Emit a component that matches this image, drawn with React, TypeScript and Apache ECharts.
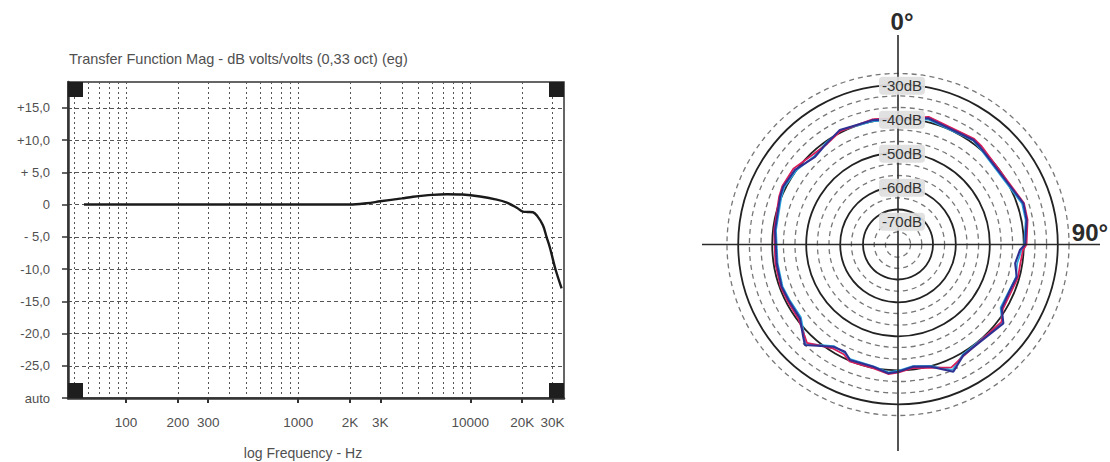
import React, { useEffect, useRef } from "react";
import * as echarts from "echarts";

// ---------- Left chart: transfer function magnitude ----------
const responseFreqHz = [57, 100, 200, 500, 1000, 1500, 2000, 2500, 3000, 4000, 4650, 6000, 7300, 9000, 11400, 14000, 16300, 18600, 20200, 21500, 23100, 24500, 26400, 27700, 29000, 31200, 33900];
const responseDb = [0, 0, 0, 0, 0, 0, 0, 0.2, 0.5, 0.95, 1.2, 1.5, 1.6, 1.55, 1.25, 0.8, 0.3, -0.5, -1.1, -1.15, -1.2, -1.8, -3.2, -5.0, -6.7, -10.0, -13.0];

const freqTickHz = [100, 200, 300, 1000, 2000, 3000, 10000, 20000, 30000];
const freqTickLabels = ["100", "200", "300", "1000", "2K", "3K", "10000", "20K", "30K"];
const freqGridHz = [50, 60, 70, 80, 90, 100, 200, 300, 400, 500, 600, 700, 800, 900, 1000, 2000, 3000, 4000, 5000, 6000, 7000, 8000, 9000, 10000, 20000, 30000];
const freqMinHz = 46;
const freqMaxHz = 35000;

const dbTicks = [-30, -25, -20, -15, -10, -5, 0, 5, 10, 15];
const dbTickLabels = ["auto", "-25,0", "-20,0", "-15,0", "-10,0", "- 5,0", "0", "+ 5,0", "+10,0", "+15,0"];
const dbMin = -30;
const dbMax = 19;

const chartTitle = "Transfer Function Mag - dB volts/volts (0,33 oct) (eg)";
const xAxisTitle = "log Frequency - Hz";

// ---------- Right chart: polar pattern ----------
const polarAnglesDeg = [348.8, 13.5, 35.8, 40.0, 71.8, 79.2, 90, 92.6, 99.1, 105.2, 112.1, 121.6, 126.8, 149.4, 156.5, 165.3, 173, 180, 184.3, 191.4, 202.6, 206.3, 212.3, 222.8, 225.8, 233, 243.2, 250.1, 261.2, 276.7, 292, 296.7, 305.9, 316.6, 324.8, 333.1, 348.8];
const navyDb = [-39.7, -38.8, -39.1, -39.5, -38.2, -38.5, -39.6, -41.1, -42.1, -40.8, -41.4, -41.2, -38.3, -39.2, -36.2, -39.9, -40.8, -39.6, -39.0, -40.3, -40.2, -41.8, -41.4, -36.7, -38.1, -40.9, -40.9, -40.6, -40.9, -40.6, -39.6, -39.2, -39.6, -41.5, -40.6, -39.2, -39.7];
const redDb = [-39.4, -38.4, -38.7, -39.0, -38.0, -38.2, -39.2, -40.2, -40.6, -40.4, -40.9, -40.8, -39.0, -39.0, -37.6, -39.5, -40.4, -39.3, -38.8, -39.9, -39.8, -41.0, -40.9, -37.6, -38.6, -40.4, -40.5, -40.3, -40.5, -40.3, -39.3, -38.9, -39.0, -40.6, -40.8, -39.6, -39.4];
const cyanDb = [-40.0, -39.2, -39.3, -39.8, -38.6, -38.8, -39.9, -40.6, -41.5, -41.0, -41.6, -41.6, -38.8, -39.5, -36.8, -40.1, -41.0, -39.9, -39.3, -40.5, -40.5, -41.5, -41.7, -37.2, -38.6, -41.3, -41.2, -40.9, -41.2, -40.9, -40.0, -39.6, -40.0, -41.2, -40.3, -39.5, -40.0];

const solidRingsDb = [-66.7, -60, -50, -40, -30];
const dashedRingsDb = [-73.3, -70, -63.3, -56.7, -53.3, -46.7, -43.3, -36.7, -33.3, -26.7];
const ringLabelDb = [-30, -40, -50, -60, -70];
const polarMinDb = -77;
const polarMaxDb = -25;

// ---------- layout ----------
const GL = 68, GT = 82, GW = 496, GH = 316;
const CX = 898, CY = 244.5, PX_PER_DB = 3.4;
const R = (polarMaxDb - polarMinDb) * PX_PER_DB;
const FONT = "'Liberation Sans', Arial, sans-serif";

export default function App() {
  const ref = useRef<HTMLDivElement>(null);

  useEffect(() => {
    const chart = echarts.init(ref.current!, undefined, { renderer: "svg" });
    const lg = (f: number) => Math.log10(f);
    const txt = "#505050";

    const freqLabel = (v: number) => {
      const i = freqTickHz.findIndex((f) => Math.abs(lg(f) - v) < 1e-6);
      return i >= 0 ? freqTickLabels[i] : "";
    };
    const dbLabel = (v: number) => {
      const i = dbTicks.findIndex((d) => Math.abs(d - v) < 1e-6);
      return i >= 0 ? dbTickLabels[i] : "";
    };

    const angleAxisFor = (idx: number) => ({
      polarIndex: idx, type: "value", min: 0, max: 360, startAngle: 90, clockwise: true, show: false,
    });

    const option: any = {
      animation: false,
      backgroundColor: "#ffffff",
      grid: {
        left: GL, top: GT, width: GW, height: GH,
        show: true, borderColor: "#333", borderWidth: 1.5,
        containLabel: false, outerBoundsMode: "none",
      },
      xAxis: [
        {
          type: "value", position: "bottom", min: lg(freqMinHz), max: lg(freqMaxHz),
          axisLine: { show: true, onZero: false, lineStyle: { color: "#333", width: 2.5 } },
          axisTick: { show: true, inside: false, length: 5, customValues: freqTickHz.map(lg), lineStyle: { color: "#333", width: 2 } },
          axisLabel: { show: true, customValues: freqTickHz.map(lg), formatter: freqLabel, color: txt, fontSize: 13.5, fontFamily: FONT, margin: 17 },
          splitLine: { show: false },
        },
        {
          type: "value", position: "top", min: lg(freqMinHz), max: lg(freqMaxHz),
          axisLine: { show: false },
          axisTick: { show: false, customValues: freqGridHz.map(lg) },
          axisLabel: { show: false },
          splitLine: { show: true, lineStyle: { color: "#555", width: 1, type: [2, 3] } },
        },
      ],
      yAxis: {
        type: "value", min: dbMin, max: dbMax,
        axisLine: { show: true, onZero: false, lineStyle: { color: "#333", width: 2.5 } },
        axisTick: { show: true, length: 6, customValues: dbTicks, lineStyle: { color: "#333", width: 1.5 } },
        axisLabel: { show: true, customValues: dbTicks, formatter: dbLabel, color: txt, fontSize: 13, fontFamily: FONT, margin: 18, showMinLabel: true },
        splitLine: { show: true, lineStyle: { color: "#555", width: 1, type: [4, 3] } },
      },
      polar: [
        { center: [CX, CY], radius: R },
        { center: [CX, CY], radius: R },
      ],
      angleAxis: [angleAxisFor(0), angleAxisFor(1)],
      radiusAxis: [
        {
          polarIndex: 0, type: "value", min: polarMinDb, max: polarMaxDb,
          axisLine: { show: false }, axisLabel: { show: false },
          axisTick: { show: false, customValues: solidRingsDb },
          splitLine: { show: true, lineStyle: { color: "#222", width: 1.8, type: "solid" } },
        },
        {
          polarIndex: 1, type: "value", min: polarMinDb, max: polarMaxDb,
          axisLine: { show: false }, axisLabel: { show: false },
          axisTick: { show: false, customValues: dashedRingsDb },
          splitLine: { show: true, lineStyle: { color: "#777", width: 1.3, type: [5, 4] } },
        },
      ],
      series: [
        {
          type: "line", xAxisIndex: 0, yAxisIndex: 0,
          data: responseFreqHz.map((f, i) => [lg(f), responseDb[i]]),
          smooth: 0.35, showSymbol: false, lineStyle: { color: "#1a1a1a", width: 2.4 }, z: 5,
        },
        {
          type: "line", coordinateSystem: "polar", polarIndex: 0,
          data: polarAnglesDeg.map((a, i) => [cyanDb[i], a]),
          showSymbol: false, lineStyle: { color: "#2aa9e0", width: 1.6 }, z: 5,
        },
        {
          type: "line", coordinateSystem: "polar", polarIndex: 0,
          data: polarAnglesDeg.map((a, i) => [redDb[i], a]),
          showSymbol: false, lineStyle: { color: "#d81e5b", width: 1.8 }, z: 6,
        },
        {
          type: "line", coordinateSystem: "polar", polarIndex: 0,
          data: polarAnglesDeg.map((a, i) => [navyDb[i], a]),
          showSymbol: false, lineStyle: { color: "#2e3192", width: 2.1 }, z: 7,
        },
      ],
    };
    chart.setOption(option);

    const ringPoint = (db: number): number[] => {
      let p: any = null;
      try {
        p = chart.convertToPixel({ polarIndex: 0 } as any, [db, 0]);
      } catch (e) {
        p = null;
      }
      if (!p || !isFinite(p[1])) p = [CX, CY - (db - polarMinDb) * PX_PER_DB];
      return p;
    };

    const sq = 15;
    const corners = [
      [GL, GT], [GL + GW - sq, GT], [GL, GT + GH - sq], [GL + GW - sq, GT + GH - sq],
    ];

    const graphics: any[] = [
      {
        type: "text", x: GL + 1, y: 59, z: 50,
        style: { text: chartTitle, fill: txt, fontSize: 14.5, fontFamily: FONT, align: "left", verticalAlign: "middle", textAlign: "left", textVerticalAlign: "middle" },
      },
      {
        type: "text", x: 303, y: 453, z: 50,
        style: { text: xAxisTitle, fill: txt, fontSize: 14, fontFamily: FONT, align: "center", verticalAlign: "middle", textAlign: "center", textVerticalAlign: "middle" },
      },
      ...corners.map((c) => ({
        type: "rect", z: 50, shape: { x: c[0], y: c[1], width: sq, height: sq }, style: { fill: "#1e1e1e" },
      })),
      {
        type: "line", z: 40, shape: { x1: 702, y1: CY, x2: 1100, y2: CY }, style: { stroke: "#2a2a2a", lineWidth: 1.6 },
      },
      {
        type: "line", z: 40, shape: { x1: CX, y1: 35, x2: CX, y2: 451 }, style: { stroke: "#2a2a2a", lineWidth: 1.6 },
      },
      {
        type: "text", x: 902, y: 21, z: 60,
        style: { text: "0°", fill: "#2b2b2b", fontSize: 24, fontWeight: "bold", fontFamily: FONT, align: "center", verticalAlign: "middle", textAlign: "center", textVerticalAlign: "middle" },
      },
      {
        type: "text", x: 1090, y: 232, z: 60,
        style: { text: "90°", fill: "#2b2b2b", fontSize: 24, fontWeight: "bold", fontFamily: FONT, align: "center", verticalAlign: "middle", textAlign: "center", textVerticalAlign: "middle" },
      },
      ...ringLabelDb.map((db) => {
        const p = ringPoint(db);
        return {
          type: "text", x: p[0] + 4, y: p[1] + 1, z: 60,
          style: {
            text: `${db}dB`, fill: "#333", fontSize: 15, fontFamily: FONT,
            align: "center", verticalAlign: "middle", textAlign: "center", textVerticalAlign: "middle",
            backgroundColor: "rgba(222,222,222,0.92)", padding: [2, 3, 1, 3], borderRadius: 4,
          },
        };
      }),
    ];
    chart.setOption({ graphic: { elements: graphics } });

    return () => chart.dispose();
  }, []);

  return (
    <div
      ref={ref}
      style={{ position: "fixed", left: 0, top: 0, width: 1110, height: 462, background: "#fff" }}
    />
  );
}
